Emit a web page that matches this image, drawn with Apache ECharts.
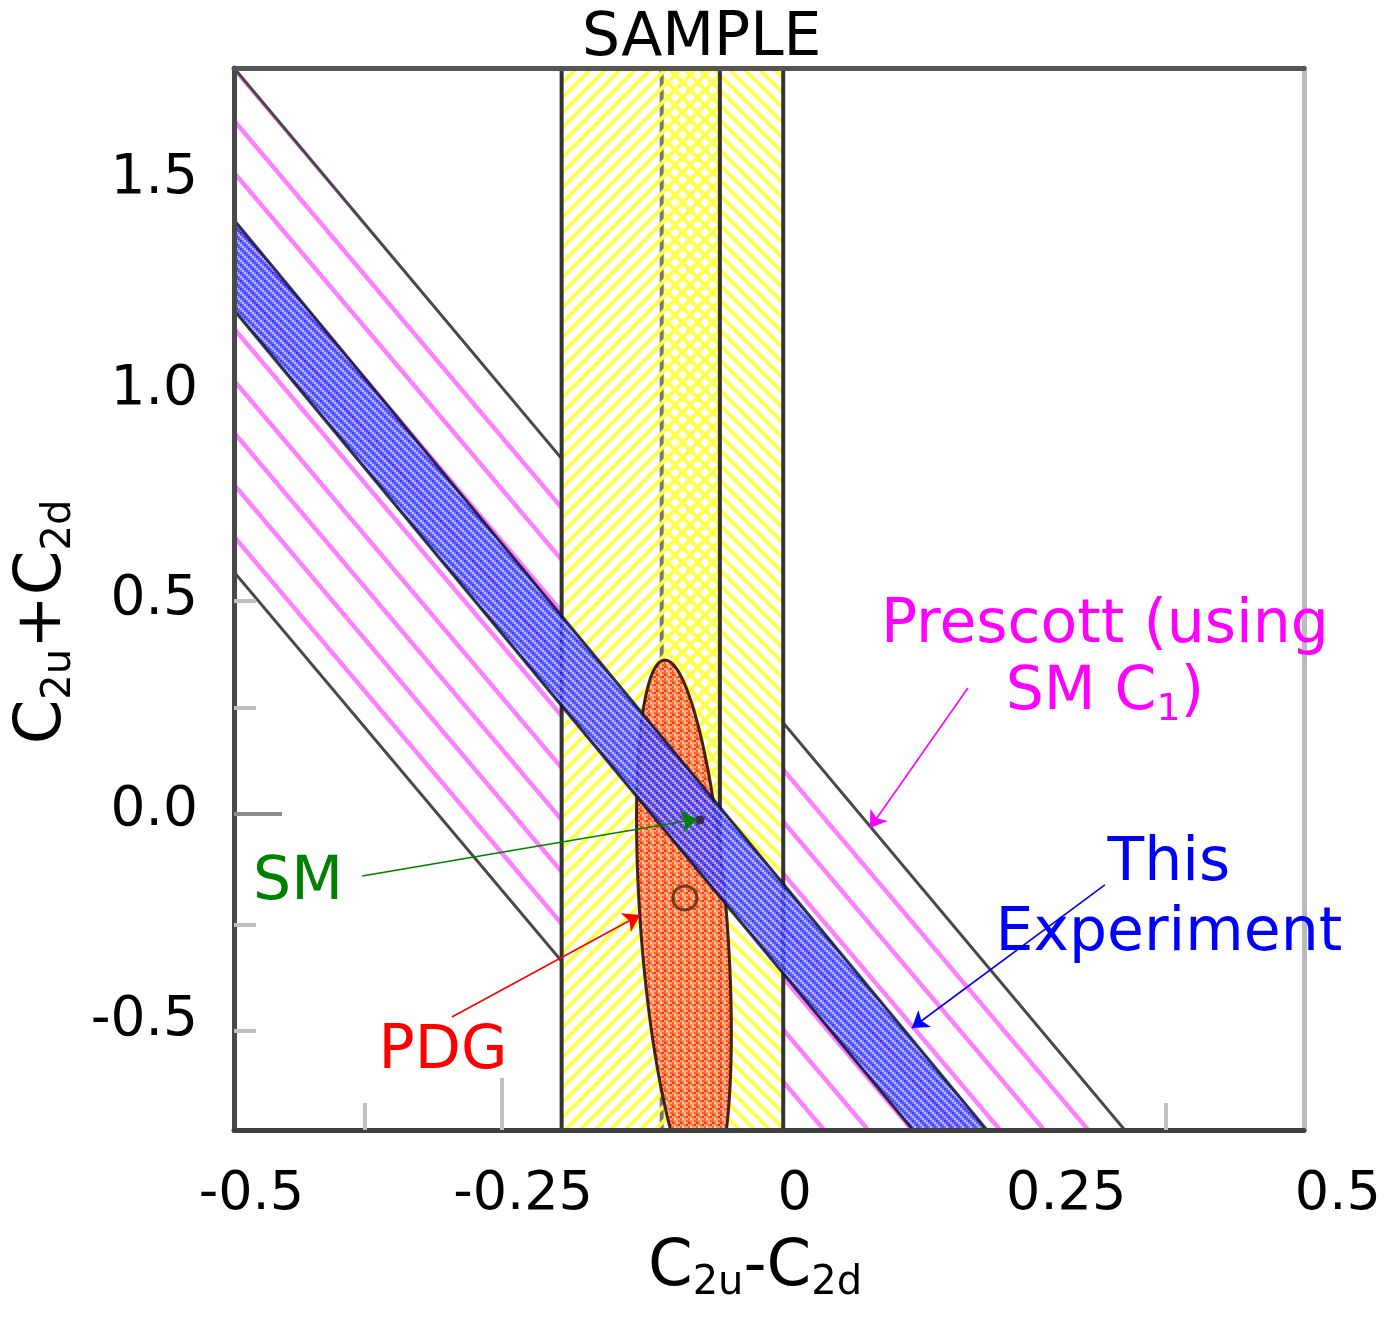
<!DOCTYPE html>
<html><head><meta charset="utf-8">
<script src="https://cdn.jsdelivr.net/npm/echarts@6/dist/echarts.min.js"></script>
<style>html,body{margin:0;padding:0;background:#fff;}#c{width:1392px;height:1317px;}</style>
</head><body><div id="c"></div>
<script>
// ---------------- data ----------------
const xRange = [-0.516, 0.469];          // plotted C2u-C2d range
const yRange = [-0.7589, 1.7637];        // plotted C2u+C2d range
const xTickLabels = [-0.5, -0.25, 0, 0.25, 0.5];
const yTickLabels = [-0.5, 0, 0.5, 1.0, 1.5];
const xMinorTicks = [-0.3954, 0.342];
const xMajorTicks = [-0.2693];
const yMinorTicks = [-0.5238, -0.272, 0.2435, 0.4976];
const yMajorTicks = [-0.0083];

// Prescott band (corners of the allowed region)
const prescottX = [-0.516, 0.304, -0.0836, -0.516];
const prescottY = [1.7637, -0.7589, -0.7589, 0.5665];
// This experiment band
const experimentX = [-0.516, 0.1771, 0.1090, -0.516];
const experimentY = [1.4026, -0.7589, -0.7589, 1.1888];
// SAMPLE bands (C2u-C2d ranges)
const sampleOuter = [-0.2144, -0.0104];
const sampleLeft = [-0.2144, -0.0687];
const sampleRight = [-0.1223, -0.0104];
// PDG ellipse: centre, semi-axes (x, y), shear of the x with the y
const pdgCenter = [-0.1018, -0.2743];
const pdgAxes = [0.040, 0.6318];
const pdgShear = -0.0175;
const pdgPoint = [-0.1009, -0.2078];
const smPoint = [-0.087, -0.0226];

// annotations
const annoText = ['SM', 'PDG', 'Prescott (using', '{n|SM C}{s|1}{n|)}', 'This', 'Experiment'];
const annoX = [-0.4571, -0.3236, 0.2857, 0.2857, 0.3446, 0.3446];
const annoY = [-0.1722, -0.5748, 0.4382, 0.277, -0.1271, -0.2933];
const arrowFrom = [[-0.398, -0.1556], [-0.3154, -0.4905], [0.1596, 0.291], [0.2857, -0.1769]];
const arrowTo = [[-0.0895, -0.0202], [-0.1423, -0.2482], [0.0694, -0.0416], [0.108, -0.5166]];

// ---------------- styles ----------------
const FF = 'DejaVu Sans';
const annoColor = ['#008000', '#ff0000', '#ff00ff', '#ff00ff', '#0000ff', '#0000ff'];
const arrowColor = ['#008000', '#ff0000', '#ff00ff', '#0000ff'];

function hatchCanvas(w, h, color, lw, dir) {
  const c = document.createElement('canvas'); c.width = w; c.height = h;
  const g = c.getContext('2d');
  g.strokeStyle = color; g.lineWidth = lw;
  for (const dy of [-h, 0, h]) {
    g.beginPath();
    if (dir === '\\') { g.moveTo(-w, -h + dy); g.lineTo(2 * w, 2 * h + dy); }
    else { g.moveTo(-w, 2 * h + dy); g.lineTo(2 * w, -h + dy); }
    g.stroke();
  }
  return c;
}
function pixelTile(rows, pal, s) {
  const c = document.createElement('canvas');
  c.width = rows[0].length * s; c.height = rows.length * s;
  const g = c.getContext('2d');
  rows.forEach((r, j) => { for (let i = 0; i < r.length; i++) { g.fillStyle = pal[r[i]]; g.fillRect(i * s, j * s, s, s); } });
  return c;
}
const magentaPat = { image: hatchCanvas(44, 52, '#ff80ff', 4.5, '\\'), repeat: 'repeat' };
const yellowA = { image: hatchCanvas(15, 15, '#ffff4a', 4, '/'), repeat: 'repeat' };
const yellowB = { image: hatchCanvas(15, 15, '#ffff4a', 4, '\\'), repeat: 'repeat' };
const bluePat = { image: pixelTile(['ABCB', 'BDBC', 'CBAB', 'BCBD'],
  { A: '#1e1ef0', B: '#5a5aff', C: '#b0b0ff', D: '#3535ff' }, 2), repeat: 'repeat' };
const redPat = { image: pixelTile(['ABCA', 'DAEB', 'CBAD', 'AEBC'],
  { A: '#ff5a30', B: '#ff8f7f', C: '#ffb040', D: '#ff2a10', E: '#ffc8b8' }, 2), repeat: 'repeat' };

function polySeries(xs, ys, style, z) {
  return {
    type: 'custom', coordinateSystem: 'cartesian2d', xAxisIndex: 0, yAxisIndex: 0, clip: true, silent: true, z,
    data: [[xs[0], ys[0]]],
    renderItem: (p, api) => ({ type: 'polygon', shape: { points: xs.map((x, i) => api.coord([x, ys[i]])) }, style })
  };
}
function bandSeries(r, style, z) {
  return polySeries([r[0], r[1], r[1], r[0]], [yRange[0], yRange[0], yRange[1], yRange[1]], style, z);
}
function vlineSeries(xs, colors, z) {
  return {
    type: 'custom', coordinateSystem: 'cartesian2d', xAxisIndex: 0, yAxisIndex: 0, clip: true, silent: true, z,
    data: [[xs[0], yRange[0]]],
    renderItem: (p, api) => ({
      type: 'group', children: xs.map((x, i) => {
        const a = api.coord([x, yRange[0]]), b = api.coord([x, yRange[1]]);
        return { type: 'line', shape: { x1: a[0], y1: a[1], x2: b[0], y2: b[1] }, style: { stroke: colors[i], lineWidth: 4 } };
      })
    })
  };
}

const series = [
  polySeries(prescottX, prescottY, { fill: magentaPat, stroke: '#484848', lineWidth: 3 }, 1),
  bandSeries(sampleOuter, { fill: '#ffffff' }, 2),
  bandSeries(sampleRight, { fill: yellowB }, 3),
  vlineSeries([sampleRight[0]], ['#7a7a6a'], 3),
  bandSeries(sampleLeft, { fill: yellowA }, 4),
  vlineSeries([sampleLeft[0], sampleLeft[1], sampleRight[1]], ['#333333', '#333333', '#333333'], 4),
  {
    type: 'custom', coordinateSystem: 'cartesian2d', xAxisIndex: 0, yAxisIndex: 0, clip: true, silent: true, z: 5,
    data: [pdgCenter],
    renderItem: (p, api) => {
      const pts = [];
      for (let k = 0; k < 120; k++) {
        const t = k / 120 * Math.PI * 2;
        pts.push(api.coord([pdgCenter[0] + pdgAxes[0] * Math.cos(t) + pdgShear * Math.sin(t),
                            pdgCenter[1] + pdgAxes[1] * Math.sin(t)]));
      }
      return { type: 'polygon', shape: { points: pts }, style: { fill: redPat, stroke: '#3a1808', lineWidth: 3, opacity: 0.95 } };
    }
  },
  polySeries(experimentX, experimentY, { fill: bluePat, stroke: '#141438', lineWidth: 3, opacity: 0.86 }, 6),
  {
    type: 'scatter', xAxisIndex: 0, yAxisIndex: 0, z: 7, silent: true,
    data: [pdgPoint], symbol: 'circle', symbolSize: 24,
    itemStyle: { color: 'rgba(0,0,0,0)', borderColor: '#4a2a10', borderWidth: 3 }
  },
  {
    type: 'scatter', xAxisIndex: 0, yAxisIndex: 0, z: 7, silent: true,
    data: [smPoint], symbol: 'circle', symbolSize: 9,
    itemStyle: { color: '#2a1a30' }
  },
  {
    type: 'lines', coordinateSystem: 'cartesian2d', xAxisIndex: 0, yAxisIndex: 0, z: 20, silent: true,
    symbol: ['none', 'arrow'], symbolSize: 16,
    lineStyle: { width: 1.6, opacity: 1, curveness: 0 },
    data: arrowFrom.map((f, i) => ({ coords: [f, arrowTo[i]], lineStyle: { color: arrowColor[i], width: 1.6 } }))
  },
  {
    type: 'custom', coordinateSystem: 'cartesian2d', xAxisIndex: 0, yAxisIndex: 0, z: 21, silent: true,
    data: [[annoX[0], annoY[0]]],
    renderItem: (p, api) => ({
      type: 'group', children: annoText.map((t, i) => {
        const c = api.coord([annoX[i], annoY[i]]);
        return {
          type: 'text', x: c[0], y: c[1],
          style: {
            text: t, fill: annoColor[i], fontSize: 60, fontFamily: FF, align: 'center', verticalAlign: 'middle',
            rich: {
              n: { fontSize: 60, fontFamily: FF, fill: annoColor[i], lineHeight: 70 },
              s: { fontSize: 38, fontFamily: FF, fill: annoColor[i], lineHeight: 14, verticalAlign: 'bottom' }
            }
          }
        };
      })
    })
  }
];

const nameRich = {
  m: { fontSize: 64, fontFamily: FF, color: '#000', lineHeight: 72 },
  s: { fontSize: 40, fontFamily: FF, color: '#000', lineHeight: 14, verticalAlign: 'bottom' }
};

const option = {
  animation: false,
  backgroundColor: '#ffffff',
  title: { text: 'SAMPLE', left: 582, top: 9, padding: 0,
    textStyle: { fontSize: 60, fontFamily: FF, color: '#000', fontWeight: 'normal' } },
  grid: [
    { left: 234, top: 68, width: 1070, height: 1062, show: false },
    { left: 251.4, top: 68, width: 1086.4, height: 1062, show: false }
  ],
  xAxis: [
    { type: 'value', gridIndex: 0, min: xRange[0], max: xRange[1], position: 'bottom', z: 10,
      axisLine: { show: true, onZero: false, lineStyle: { color: '#404040', width: 5 } },
      axisTick: { show: true, inside: true, length: 27, customValues: xMinorTicks, lineStyle: { color: '#c0c0c0', width: 4 } },
      axisLabel: { show: false }, splitLine: { show: false },
      name: '{m|C}{s|2u}{m|-C}{s|2d}', nameLocation: 'middle', nameGap: 102,
      nameTextStyle: { color: '#000', fontFamily: FF, padding: [0, 28, 0, 0], rich: nameRich } },
    { type: 'value', gridIndex: 0, min: xRange[0], max: xRange[1], position: 'bottom', z: 10,
      axisLine: { show: false, onZero: false },
      axisTick: { show: true, inside: true, length: 52, customValues: xMajorTicks, lineStyle: { color: '#c0c0c0', width: 4 } },
      axisLabel: { show: false }, splitLine: { show: false } },
    { type: 'value', gridIndex: 0, min: xRange[0], max: xRange[1], position: 'top', z: 10,
      axisLine: { show: true, onZero: false, lineStyle: { color: '#555555', width: 5 } },
      axisTick: { show: false }, axisLabel: { show: false }, splitLine: { show: false } },
    { type: 'value', gridIndex: 1, min: xTickLabels[0], max: xTickLabels[xTickLabels.length - 1], interval: 0.25, position: 'bottom',
      axisLine: { show: false, onZero: false }, axisTick: { show: false }, splitLine: { show: false },
      axisLabel: { show: true, margin: 38, color: '#000', fontSize: 54, fontFamily: FF,
        formatter: v => (v === 0 ? '0' : String(v)) } }
  ],
  yAxis: [
    { type: 'value', gridIndex: 0, min: yRange[0], max: yRange[1], position: 'left', z: 10,
      axisLine: { show: true, onZero: false, lineStyle: { color: '#484848', width: 5 } },
      axisTick: { show: true, inside: true, length: 22, customValues: yMinorTicks, lineStyle: { color: '#c0c0c0', width: 4 } },
      axisLabel: { show: true, customValues: yTickLabels, margin: 36, color: '#000', fontSize: 55, fontFamily: FF,
        formatter: v => v.toFixed(1) },
      splitLine: { show: false },
      name: '{m|C}{s|2u}{m|+C}{s|2d}', nameLocation: 'middle', nameRotate: 90, nameGap: 145,
      nameTextStyle: { color: '#000', fontFamily: FF, padding: [0, 46, 0, 0], rich: nameRich } },
    { type: 'value', gridIndex: 0, min: yRange[0], max: yRange[1], position: 'left', z: 10,
      axisLine: { show: false, onZero: false },
      axisTick: { show: true, inside: true, length: 48, customValues: yMajorTicks, lineStyle: { color: '#8c8c8c', width: 4 } },
      axisLabel: { show: false }, splitLine: { show: false } },
    { type: 'value', gridIndex: 0, min: yRange[0], max: yRange[1], position: 'right', z: 10,
      axisLine: { show: true, onZero: false, lineStyle: { color: '#bbbbbb', width: 5 } },
      axisTick: { show: false }, axisLabel: { show: false }, splitLine: { show: false } },
    { type: 'value', gridIndex: 1, min: yRange[0], max: yRange[1], show: false }
  ],
  series
};
const chart = echarts.init(document.getElementById('c'), null, { renderer: 'canvas' });
chart.setOption(option);
</script>
</body></html>
